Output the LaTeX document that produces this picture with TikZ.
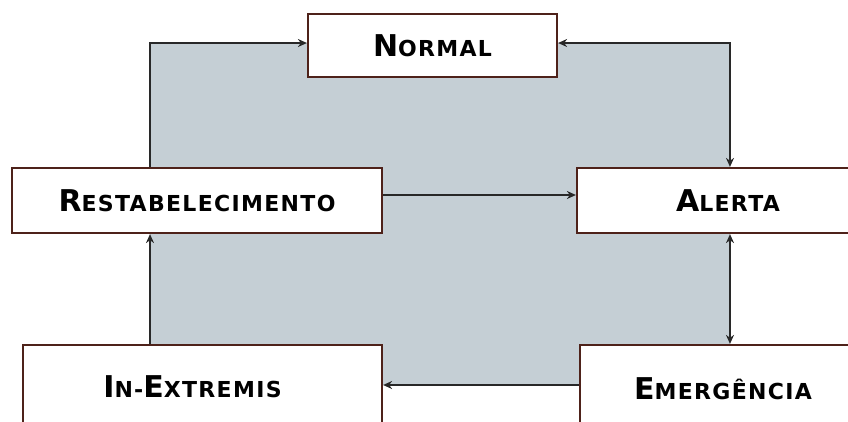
\documentclass[tikz,border=0pt]{standalone}
\usepackage{fontspec}
\usetikzlibrary{arrows.meta}
\newfontfamily\labelfont{DejaVu Sans}[LetterSpace=6]
\definecolor{stateback}{RGB}{197,207,213}
\definecolor{boxedge}{RGB}{78,34,26}
\definecolor{linkcol}{RGB}{40,40,40}
% hand-set small caps: a large initial followed by smaller capitals
\newcommand\initcap[1]{{\fontsize{30}{30}\selectfont #1}}
\newcommand\restcap[1]{{\fontsize{22}{22}\selectfont #1}}
\tikzset{
  statebox/.style={draw=boxedge, line width=2.2pt, fill=white, inner sep=0pt,
    font=\labelfont\bfseries, text=black},
  tip/.style={Stealth[length=9pt,width=8pt]},
  link/.style={draw=linkcol, line width=1.5pt, -{Stealth[length=9pt,width=8pt]}},
  twolink/.style={draw=linkcol, line width=1.5pt,
    {Stealth[length=9pt,width=8pt]}-{Stealth[length=9pt,width=8pt]}},
}
\begin{document}
\begin{tikzpicture}[x=1pt,y=-1pt]
\useasboundingbox (0,0) rectangle (848,421);
\clip (0,0) rectangle (848,421);
\fill[white] (0,0) rectangle (848,421);

% corners of the routing frame
\coordinate (c1) at (150,43);
\coordinate (c2) at (730,43);
\coordinate (c3) at (0,195);
\coordinate (c4) at (0,385);

% shaded area enclosed by the transitions
\fill[stateback] (c1) rectangle (c2 |- c4);

% states
\node[statebox, minimum width=249pt, minimum height=63pt] (N) at (432.5,45.5)
  {\initcap{N}\restcap{ORMAL}};
\node[statebox, minimum width=370pt, minimum height=65pt] (R) at (197,200.5)
  {\initcap{R}\restcap{ESTABELECIMENTO}};
\node[statebox, minimum width=302pt, minimum height=65pt] (A) at (728,200.5)
  {\initcap{A}\restcap{LERTA}};
\node[statebox, minimum width=359pt, minimum height=84pt] (I) at (202.5,387)
  {\initcap{I}\restcap{N-}\initcap{E}\restcap{XTREMIS}\hspace*{20pt}};
\node[statebox, minimum width=286pt, minimum height=88pt] (E) at (723,389)
  {\initcap{E}\restcap{MERGÊNCIA}};

% transitions
\draw[link] (R.north -| c1) -- (c1) -- (N.west |- c1);
\draw[twolink] (N.east |- c2) -- (c2) -- (A.north -| c2);
\draw[link] (R.east |- c3) -- (A.west |- c3);
\draw[twolink] (A.south -| c2) -- (E.north -| c2);
\draw[link] (E.west |- c4) -- (I.east |- c4);
\draw[link] (I.north -| c1) -- (R.south -| c1);
\end{tikzpicture}
\end{document}
